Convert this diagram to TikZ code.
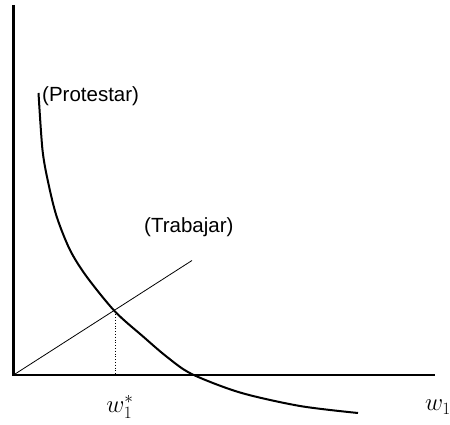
\documentclass[tikz,border=0pt]{standalone}
\usepackage{fontspec}
\setmainfont{Liberation Sans}
\usepackage{tikz}
\usetikzlibrary{positioning}

\begin{document}
\begin{tikzpicture}[
    x=1pt, y=-1pt,
    axis/.style={line width=2.4pt, color=black},
    curve/.style={line width=2pt, color=black},
    ray/.style={line width=0.8pt, color=black},
    guide/.style={line width=0.8pt, dotted, color=black},
    tag/.style={inner sep=0pt, font=\fontsize{20.5}{24}\selectfont},
    varlabel/.style={inner sep=0pt, font=\fontsize{24}{28}\selectfont}
]
    \useasboundingbox (0,0) rectangle (450,425);

    \coordinate (origin) at (13.5,375);
    \coordinate (ytop) at (13.5,5);
    \coordinate (xend) at (435,375);
    \coordinate (rayend) at (192,260.5);
    \coordinate (eq) at (115,311.5);

    % axes
    \draw[axis] (ytop) -- (origin) -- (xend);

    % labour line and the protest curve
    \draw[ray] (origin) -- (rayend);
    \draw[curve] plot[smooth, tension=0.5] coordinates {
        (38.5,93) (42.5,150) (48.3,183) (56.7,216.7) (70,250) (86.7,276.7)
        (eq) (143.3,336.7) (166.7,356.7) (191.7,374)
        (240,392.5) (300,406) (358,413)};
    \draw[guide] (eq) -- (eq |- origin);

    \node[tag, anchor=base west] (protestar) at (42,101.5) {(Protestar)};
    \node[tag, anchor=base west] (trabajar) at (144,233) {(Trabajar)};
    \node[varlabel] (wstar) at (120,407) {$w_1^*$};
    \node[varlabel] (wone) at (438,407) {$w_1$};
\end{tikzpicture}
\end{document}
